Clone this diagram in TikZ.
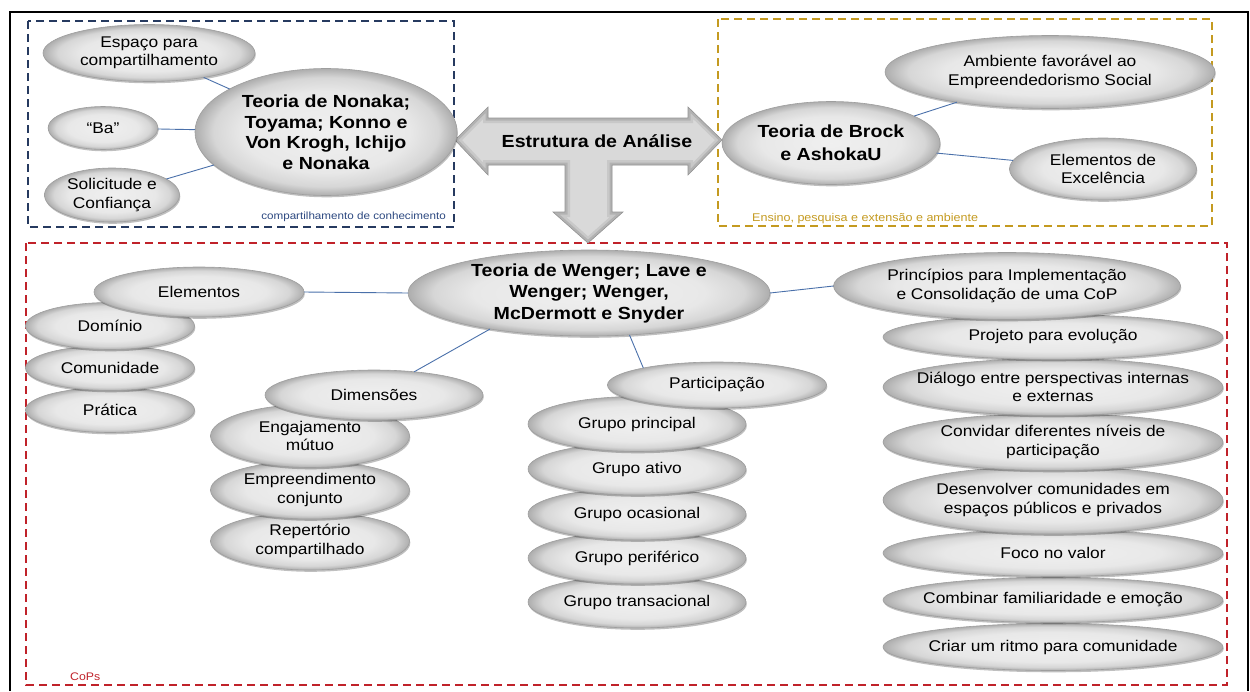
\documentclass[tikz,border=0pt]{standalone}
\usepackage{fontspec}
\setmainfont{Liberation Sans}[FakeStretch=1.12]
\usetikzlibrary{shapes.geometric,shadows}
\definecolor{linkblue}{RGB}{74,112,170}
\definecolor{navybox}{RGB}{38,58,96}
\definecolor{navytext}{RGB}{44,72,128}
\definecolor{goldbox}{RGB}{196,154,32}
\definecolor{redbox}{RGB}{192,34,42}
\pgfdeclareradialshading{ellshade}{\pgfpoint{0bp}{0bp}}{color(0bp)=(black!6); color(16bp)=(black!9); color(21.5bp)=(black!16); color(25bp)=(black!32); color(50bp)=(black!32)}
\begin{document}
\begin{tikzpicture}[x=1pt,y=-1pt,
  ellbase/.style={ellipse, draw=black!38, line width=0.6pt, shading=ellshade, inner sep=0pt, outer sep=0pt,
    drop shadow={shadow xshift=0.8pt, shadow yshift=-1.8pt, opacity=0.25, fill=black}},
  ell/.style 2 args={ellbase, minimum width=#1, minimum height=#2},
  lbl/.style={align=center, inner sep=0pt, font=\fontsize{15.5}{18.5}\selectfont},
  blbl/.style={align=center, inner sep=0pt, font=\fontsize{17.5}{#1}\selectfont\bfseries},
  link/.style={draw=linkblue, line width=0.9pt},
  boxline/.style={dash pattern=on 8pt off 5pt, line width=1.4pt},
  boxlbl/.style={inner sep=0pt, font=\fontsize{#1}{12}\selectfont}
]
\useasboundingbox (0,0) rectangle (1250,691);
% outer frame
\draw[line width=2pt, black] (10,691) -- (10,12) -- (1248,12) -- (1248,691);

% dashed regions
\draw[boxline, draw=navybox] (28,21) rectangle (454,227);
\draw[boxline, draw=goldbox] (718,19) rectangle (1212,226);
\draw[boxline, draw=redbox] (26,243) rectangle (1227,685);
\node[boxlbl=10.4, anchor=base east, text=navytext] (lblk) at (446,219) {compartilhamento de conhecimento};
\node[boxlbl=11.2, anchor=base west, text=goldbox] (lble) at (752,221) {Ensino, pesquisa e extensão e ambiente};
\node[boxlbl=11, anchor=base west, text=redbox] (lblc) at (70,680) {CoPs};

% central arrow
\def\arrowpath{(455,140) -- (488,107) -- (488,118) -- (688,118) -- (688,107) -- (722,140) -- (688,175) -- (688,165) -- (612,165) -- (612,212) -- (623,212) -- (588,243) -- (553,212) -- (565,212) -- (565,165) -- (488,165) -- (488,175) -- cycle}
\fill[black!15] \arrowpath;
\begin{scope}
  \clip \arrowpath;
  \draw[line width=10pt, black!28, opacity=0.5] \arrowpath;
  \draw[line width=5pt, black!38, opacity=0.5] \arrowpath;
\end{scope}
\draw[black!42, line width=0.6pt, line join=miter] \arrowpath;
\node[inner sep=0pt, anchor=base, font=\fontsize{17.5}{21}\selectfont\bfseries] (est) at (597,147) {Estrutura de Análise};

% top-left group
\node[ell={212}{57}, label={[lbl]center:Espaço para\\compartilhamento}] (esp) at (149,53) {};
\node[ell={110}{43}, label={[lbl]center:“Ba”}] (ba) at (103,128) {};
\node[ell={135}{54}, label={[lbl]center:Solicitude e\\Confiança}] (sol) at (112,195) {};
\node[ell={262}{127}, label={[blbl=20.5]center:Teoria de Nonaka;\\Toyama; Konno e\\Von Krogh, Ichijo\\e Nonaka}] (non) at (326,132) {};
\draw[link] (esp) -- (non);
\draw[link] (ba) -- (non);
\draw[link] (sol) -- (non);

% top-right group
\node[ell={330}{73}, label={[lbl]center:Ambiente favorável ao\\Empreendedorismo Social}] (amb) at (1050,72) {};
\node[ell={187}{62}, label={[lbl]center:Elementos de\\Excelência}] (exc) at (1103,169) {};
\node[ell={218}{83}, label={[blbl=23]center:Teoria de Brock\\e AshokaU}] (bro) at (831,143) {};
\draw[link] (bro) -- (amb);
\draw[link] (bro) -- (exc);

% Elementos stack
\node[ell={169}{45}, label={[lbl]center:Prática}] (pra) at (110,410) {};
\node[ell={169}{45}, label={[lbl]center:Comunidade}] (com) at (110,368) {};
\node[ell={169}{47}, label={[lbl]center:Domínio}] (dom) at (110,326) {};
\node[ell={210}{50}, label={[lbl]center:Elementos}] (ele) at (199,292) {};

% Dimensoes stack
\node[ell={199}{58}, label={[lbl]center:Repertório\\compartilhado}] (rep) at (310,541) {};
\node[ell={199}{58}, label={[lbl]center:Empreendimento\\conjunto}] (emp) at (310,490) {};
\node[ell={199}{63}, label={[lbl]center:Engajamento\\mútuo}] (eng) at (310,436) {};
\node[ell={218}{50}, label={[lbl]center:Dimensões}] (dim) at (374,395) {};

% Participacao stack
\node[ell={218}{52}, label={[lbl]center:Grupo transacional}] (gtr) at (637,602) {};
\node[ell={218}{52}, label={[lbl]center:Grupo periférico}] (gpe) at (637,558) {};
\node[ell={218}{52}, label={[lbl]center:Grupo ocasional}] (goc) at (637,514) {};
\node[ell={218}{52}, label={[lbl]center:Grupo ativo}] (gat) at (637,469) {};
\node[ell={218}{55}, label={[lbl]center:Grupo principal}] (gpr) at (637,424) {};
\node[ell={219}{46}, label={[lbl]center:Participação}] (par) at (717,385) {};

% Principios stack
\node[ell={340}{47}, label={[lbl]center:Criar um ritmo para comunidade}] (cri) at (1053,647) {};
\node[ell={340}{45}, label={[lbl]center:Combinar familiaridade e emoção}] (cmb) at (1053,600) {};
\node[ell={340}{47}, label={[lbl]center:Foco no valor}] (foc) at (1053,553) {};
\node[ell={340}{68}, label={[lbl]center:Desenvolver comunidades em\\espaços públicos e privados}] (des) at (1053,500) {};
\node[ell={340}{57}, label={[lbl]center:Convidar diferentes níveis de\\participação}] (cvd) at (1053,442) {};
\node[ell={340}{57}, label={[lbl]center:Diálogo entre perspectivas internas\\e externas}] (dia) at (1053,387) {};
\node[ell={340}{45}, label={[lbl]center:Projeto para evolução}] (pro) at (1053,337) {};
\node[ell={347}{67}, label={[lbl]center:Princípios para Implementação\\e Consolidação de uma CoP}] (pri) at (1007,286) {};

% Wenger centre
\node[ell={362}{86}, label={[blbl=21.5]center:Teoria de Wenger; Lave e\\Wenger; Wenger,\\McDermott e Snyder}] (wen) at (589,293) {};
\draw[link] (ele.east) -- (wen.west);
\draw[link] (wen.200) -- (dim.30);
\draw[link] (wen.-46) -- (par.167);
\draw[link] (wen.east) -- (pri.west);
\end{tikzpicture}
\end{document}
